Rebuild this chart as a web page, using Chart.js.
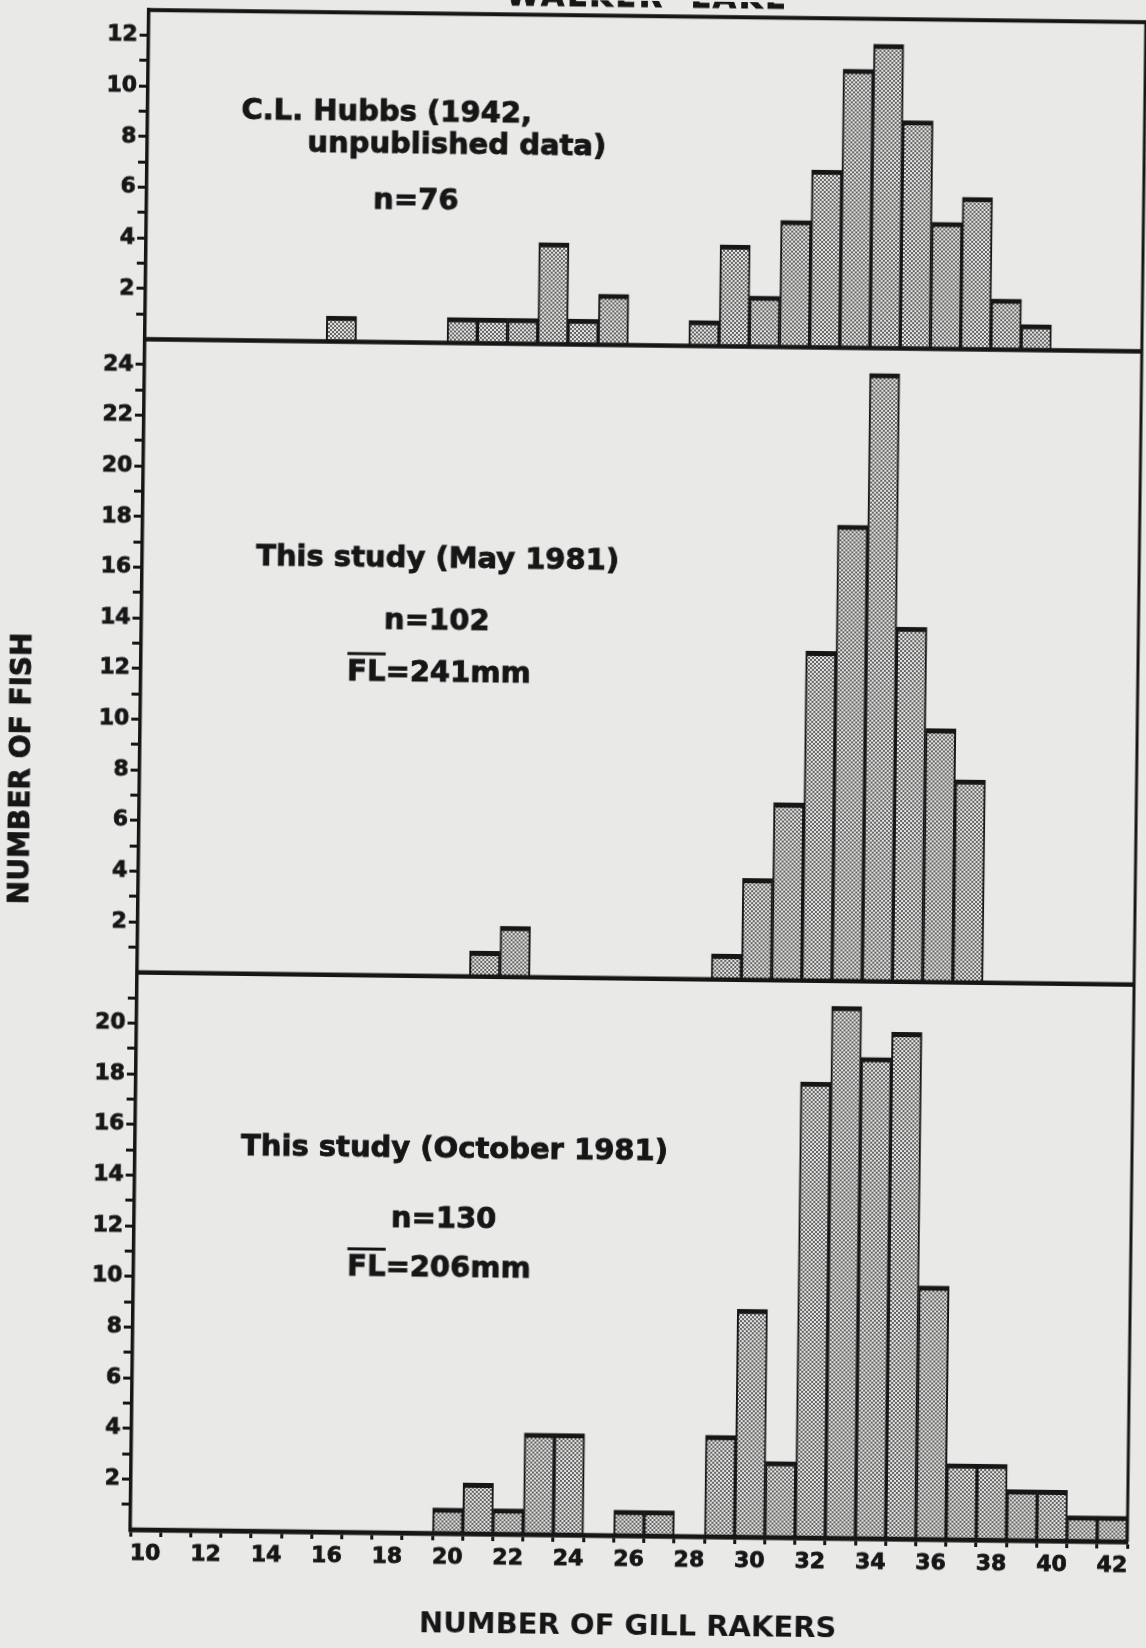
<!DOCTYPE html>
<html>
<head>
<meta charset="utf-8">
<title>Walker Lake - gill raker counts</title>
<script src="https://cdn.jsdelivr.net/npm/chart.js@4.4.1/dist/chart.umd.min.js"></script>
<style>
  html, body { margin: 0; padding: 0; background: #e9e9e7; overflow: hidden; }
  #sheet {
    position: absolute; left: 0; top: 0;
    width: 1146px; height: 1648px;
    transform: rotate(0.7deg);
    transform-origin: 573px 824px;
  }
  canvas { display: block; }
</style>
</head>
<body>
<div id="sheet"><canvas id="rakerChart" width="1146" height="1648"></canvas></div>
<script>
// Number of gill rakers (one bin per count)
const rakerCounts = ['10', '11', '12', '13', '14', '15', '16', '17', '18', '19',
                     '20', '21', '22', '23', '24', '25', '26', '27', '28', '29',
                     '30', '31', '32', '33', '34', '35', '36', '37', '38', '39',
                     '40', '41', '42'];

// Number of fish per raker count
const hubbs1942 = [0, 0, 0, 0, 0, 0, 1, 0, 0, 0,
                   1, 1, 1, 4, 1, 2, 0, 0, 1, 4,
                   2, 5, 7, 11, 12, 9, 5, 6, 2, 1,
                   0, 0, 0];
const may1981 = [0, 0, 0, 0, 0, 0, 0, 0, 0, 0,
                 0, 1, 2, 0, 0, 0, 0, 0, 0, 1,
                 4, 7, 13, 18, 24, 14, 10, 8, 0, 0,
                 0, 0, 0];
const october1981 = [0, 0, 0, 0, 0, 0, 0, 0, 0, 0,
                     1, 2, 1, 4, 4, 0, 1, 1, 0, 4,
                     9, 3, 18, 21, 19, 20, 10, 3, 3, 2,
                     2, 1, 1];

// Upper end of each panel's y axis
const panelMax = [13, 25, 22];

// Panel captions
const hubbsNotes = ['C.L. Hubbs (1942,', 'unpublished data)', 'n=76'];
const mayNotes = ['This study (May 1981)', 'n=102', 'FL=241mm'];
const octoberNotes = ['This study (October 1981)', 'n=130', 'FL=206mm'];

const figureTitle = 'WALKER LAKE';
const xTitle = 'NUMBER OF GILL RAKERS';
const yTitle = 'NUMBER OF FISH';

const INK = '#161616';
const FAMILY = '"DejaVu Sans", "Liberation Sans", sans-serif';

// caption anchors, in (raker count, fish count) of each panel
const notePlacement = {
  yHubbs: [[12.6, 9.06], [14.8, 7.76], [17.0, 5.58]],
  yMay: [[13.27, 16.43], [17.53, 13.97], [16.33, 11.94]],
  yOct: [[13.01, 15.16], [18.0, 12.39], [16.57, 10.44]]
};
const panelNotes = { yHubbs: hubbsNotes, yMay: mayNotes, yOct: octoberNotes };

// halftone screen used as bar fill
function dotScreen() {
  const c = document.createElement('canvas');
  c.width = 4; c.height = 4;
  const g = c.getContext('2d');
  g.fillStyle = '#e4e4e2';
  g.fillRect(0, 0, 4, 4);
  g.fillStyle = '#656565';
  g.fillRect(0, 0, 2, 2);
  g.fillRect(2, 2, 2, 2);
  return g.createPattern(c, 'repeat');
}

// heavy text: fill plus a thin outline, like the typewriter-bold lettering
function inkText(ctx, text, x, y) {
  ctx.fillText(text, x, y);
  ctx.strokeText(text, x, y);
}

function panelScale(max, weight) {
  return {
    type: 'linear',
    position: 'left',
    stack: 'panels',
    stackWeight: max,
    weight: weight,
    min: 0,
    max: max,
    afterFit(scale) { scale.width = 55; },
    border: { display: true, color: INK, width: 3.5 },
    grid: {
      drawOnChartArea: false,
      color: INK,
      tickColor: ctx => (ctx.tick && (ctx.tick.value === 0 || ctx.tick.value === max)) ? 'rgba(0,0,0,0)' : INK,
      tickWidth: 3,
      tickLength: 9
    },
    ticks: {
      stepSize: 1,
      autoSkip: false,
      padding: 2,
      color: INK,
      textStrokeColor: INK,
      textStrokeWidth: 0.8,
      font: { family: FAMILY, weight: 'bold', size: 22 },
      callback: v => (v % 2 === 0 && v !== 0 && v !== max) ? String(v) : ''
    }
  };
}

// separators, frame, captions and titles
const figureText = {
  id: 'figureText',
  afterDatasetsDraw(chart) {
    const { ctx, chartArea: area, scales } = chart;
    ctx.save();
    ctx.strokeStyle = INK;
    ctx.fillStyle = INK;
    ctx.lineCap = 'butt';

    // panel baselines
    ctx.lineWidth = 4.5;
    ['yHubbs', 'yMay', 'yOct'].forEach(id => {
      const y = scales[id].getPixelForValue(0);
      ctx.beginPath();
      ctx.moveTo(area.left, y);
      ctx.lineTo(area.right, y);
      ctx.stroke();
    });

    // top and right edges of the frame
    const top = scales.yHubbs.getPixelForValue(panelMax[0]);
    ctx.lineWidth = 4;
    ctx.beginPath();
    ctx.moveTo(area.left - 1.5, top);
    ctx.lineTo(area.right + 1.5, top);
    ctx.stroke();
    ctx.lineWidth = 3;
    ctx.beginPath();
    ctx.moveTo(area.right, top);
    ctx.lineTo(area.right, area.bottom);
    ctx.stroke();

    // captions inside the panels
    const first = Number(rakerCounts[0]);
    ctx.font = 'bold 29px ' + FAMILY;
    ctx.textAlign = 'left';
    ctx.textBaseline = 'middle';
    Object.keys(panelNotes).forEach(id => {
      panelNotes[id].forEach((text, i) => {
        const [rv, fv] = notePlacement[id][i];
        const x = scales.x.getPixelForValue(rv - first);
        const y = scales[id].getPixelForValue(fv);
        ctx.lineWidth = 0.9;
        inkText(ctx, text, x, y);
        if (text.startsWith('FL')) {
          // bar over FL (mean fork length)
          const w = ctx.measureText('FL').width;
          ctx.lineWidth = 3;
          ctx.beginPath();
          ctx.moveTo(x, y - 19);
          ctx.lineTo(x + w, y - 19);
          ctx.stroke();
        }
      });
    });

    // figure title, clipped by the top of the sheet
    ctx.font = 'bold 30px ' + FAMILY;
    ctx.textAlign = 'center';
    ctx.textBaseline = 'alphabetic';
    ctx.lineWidth = 0.9;
    if ('letterSpacing' in ctx) ctx.letterSpacing = '3px';
    if ('wordSpacing' in ctx) ctx.wordSpacing = '12px';
    inkText(ctx, figureTitle, (area.left + area.right) / 2, top - 9);
    if ('letterSpacing' in ctx) ctx.letterSpacing = '0px';
    if ('wordSpacing' in ctx) ctx.wordSpacing = '0px';

    // shared y title
    ctx.font = 'bold 28px ' + FAMILY;
    ctx.textBaseline = 'middle';
    ctx.translate(22, (area.top + area.bottom) / 2);
    ctx.rotate(-Math.PI / 2);
    inkText(ctx, yTitle, 0, 0);
    ctx.restore();
  }
};

const screen = dotScreen();
const barStyle = {
  backgroundColor: screen,
  borderColor: INK,
  borderWidth: { top: 5, left: 2, right: 2, bottom: 0 },
  borderSkipped: 'start',
  grouped: false,
  barPercentage: 1,
  categoryPercentage: 1
};

new Chart(document.getElementById('rakerChart'), {
  type: 'bar',
  data: {
    labels: rakerCounts,
    datasets: [
      Object.assign({ label: 'C.L. Hubbs (1942)', data: hubbs1942, yAxisID: 'yHubbs' }, barStyle),
      Object.assign({ label: 'May 1981', data: may1981, yAxisID: 'yMay' }, barStyle),
      Object.assign({ label: 'October 1981', data: october1981, yAxisID: 'yOct' }, barStyle)
    ]
  },
  options: {
    responsive: false,
    animation: false,
    devicePixelRatio: 1,
    layout: { padding: { left: 84, right: 10, top: 11, bottom: 0 } },
    plugins: {
      legend: { display: false },
      tooltip: { enabled: false },
      title: { display: false }
    },
    scales: {
      x: {
        type: 'category',
        position: 'bottom',
        offset: true,
        afterFit(scale) { scale.height = 113; },
        border: { display: true, color: INK, width: 4.5 },
        grid: {
          offset: true,
          drawOnChartArea: false,
          color: INK,
          tickColor: INK,
          tickWidth: 3,
          tickLength: 7
        },
        ticks: {
          autoSkip: false,
          maxRotation: 0,
          padding: 4,
          color: INK,
          textStrokeColor: INK,
          textStrokeWidth: 0.8,
          font: { family: FAMILY, weight: 'bold', size: 22 },
          callback(v) {
            const label = this.getLabelForValue(v);
            return Number(label) % 2 === 0 ? label : '';
          }
        },
        title: {
          display: true,
          text: xTitle,
          color: INK,
          font: { family: FAMILY, weight: 'bold', size: 29 },
          padding: { top: 0, bottom: 4 }
        }
      },
      yHubbs: panelScale(panelMax[0], 3),
      yMay: panelScale(panelMax[1], 2),
      yOct: panelScale(panelMax[2], 1)
    }
  },
  plugins: [figureText]
});
</script>
</body>
</html>
